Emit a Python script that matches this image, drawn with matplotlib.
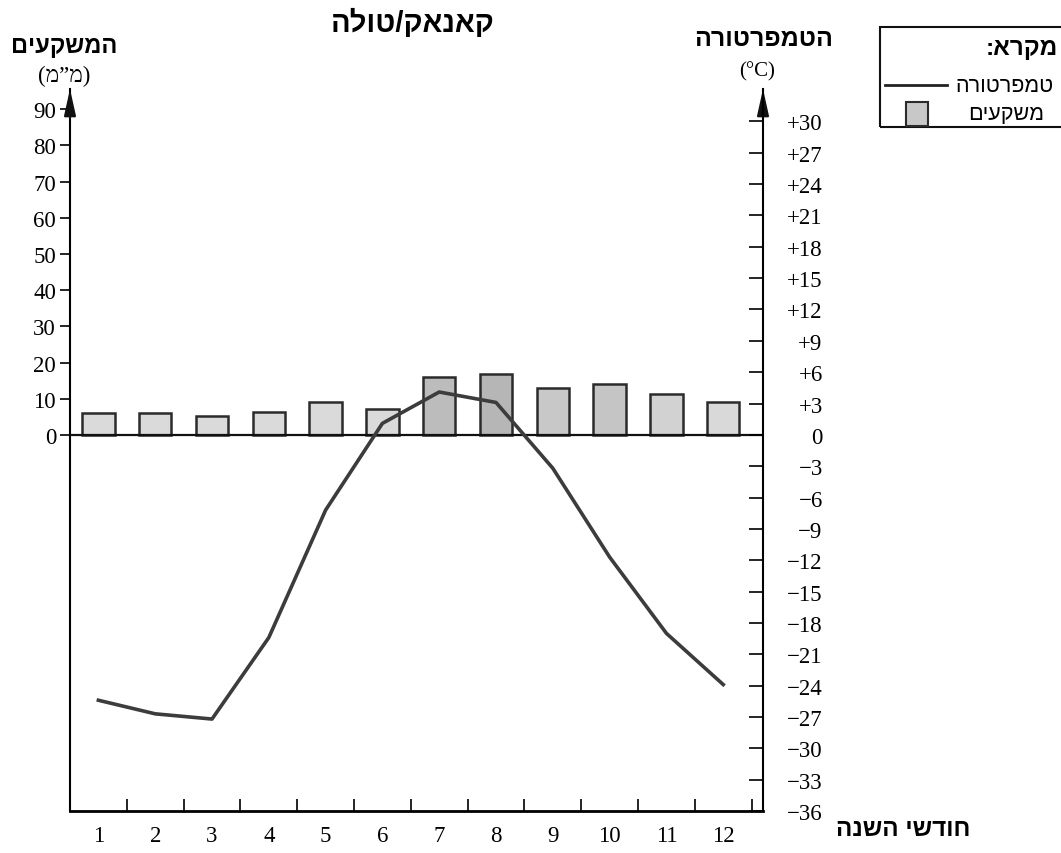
import matplotlib
matplotlib.use('Agg')
import matplotlib.pyplot as plt
from matplotlib.patches import Rectangle
from matplotlib.lines import Line2D

# ---------------- data ----------------
months = list(range(1, 13))
month_labels = [str(m) for m in months]
precip_mm = [6.0, 6.2, 5.2, 6.4, 9.2, 7.1, 15.9, 16.9, 13.1, 14.0, 11.2, 9.1]
temp_c = [-25.4, -26.7, -27.2, -19.4, -7.2, 1.1, 4.1, 3.1, -3.2, -11.7, -19.0, -23.9]
precip_ticks = list(range(0, 91, 10))
temp_ticks = list(range(-36, 31, 3))

title_he = "קאנאק/טולה"
precip_label_he = "המשקעים"
precip_unit_he = "מ”מ"
temp_label_he = "הטמפרטורה"
temp_unit = "(°C)"
xlabel_he = "חודשי השנה"
legend_title_he = "מקרא:"
legend_temp_he = "טמפרטורה"
legend_precip_he = "משקעים"


def vis(s):
    # matplotlib draws left-to-right; reverse Hebrew for visual order
    return s[::-1]


W, H = 1061, 854
fig = plt.figure(figsize=(W / 100, H / 100), dpi=100)
fig.patch.set_facecolor('white')

HEB = ['Liberation Sans', 'DejaVu Sans']
SERIF = ['Liberation Serif', 'DejaVu Serif']


def px(x, y):
    return x / W, 1 - y / H


# axes frame in pixels
xl, xr, yb, yt = 70, 763, 812, 90
ax_p = fig.add_axes([xl / W, 1 - yb / H, (xr - xl) / W, (yb - yt) / H])
ax_t = ax_p.twinx()

ax_p.set_xlim(0.5, 12.7)
ax_p.set_ylim(-103.9, 95.6)
ax_t.set_ylim(-36, 33.1)

# bars
bar_colors = ['#dadada'] * 6 + ['#bcbcbc', '#b6b6b6', '#c8c8c8', '#c5c5c5', '#d2d2d2', '#d9d9d9']
ax_p.bar(months, precip_mm, width=0.57, color=bar_colors, edgecolor='#2b2b2b',
         linewidth=1.8, zorder=2)
ax_p.axhline(0, color='#111111', lw=1.6, zorder=3)

# temperature line
ax_t.plot(months, temp_c, color='#3c3c3c', lw=2.6, zorder=4)

# spines
for s in ['top', 'right']:
    ax_p.spines[s].set_visible(False)
for s in ['top', 'left', 'bottom']:
    ax_t.spines[s].set_visible(False)
ax_p.spines['left'].set_linewidth(1.5)
ax_p.spines['bottom'].set_linewidth(2.0)
ax_t.spines['right'].set_linewidth(1.5)

TICK_FS = 16.5

# left ticks
ax_p.set_yticks(precip_ticks)
ax_p.set_yticklabels([str(v) for v in precip_ticks], fontfamily=SERIF, fontsize=TICK_FS)
ax_p.tick_params(axis='y', direction='out', length=7, width=1.2, pad=3)

# right ticks
def fmt(t):
    if t > 0:
        return '+%d' % t
    if t == 0:
        return '0'
    return '\u2212%d' % (-t)

ax_t.set_yticks(temp_ticks)
ax_t.set_yticklabels([fmt(t) for t in temp_ticks], fontfamily=SERIF, fontsize=TICK_FS)
ax_t.tick_params(axis='y', direction='in', length=10, width=1.2, pad=43)
for lab in ax_t.get_yticklabels():
    lab.set_horizontalalignment('right')

# x ticks
ax_p.set_xticks(months)
ax_p.set_xticklabels(month_labels, fontfamily=SERIF, fontsize=TICK_FS)
ax_p.set_xticks([m + 0.5 for m in months], minor=True)
ax_p.tick_params(axis='x', which='major', length=0, pad=10)
ax_p.tick_params(axis='x', which='minor', direction='in', length=9, width=1.2)

ax_p.set_facecolor('none')
ax_t.set_facecolor('none')

# arrows
for xf in (0.0, 1.0):
    ax_p.annotate('', xy=(xf, 1.0), xytext=(xf, 0.96), xycoords='axes fraction',
                  textcoords='axes fraction',
                  arrowprops=dict(arrowstyle='-|>,head_length=0.9,head_width=0.2',
                                  color='#111111', lw=1.5, mutation_scale=18,
                                  shrinkA=0, shrinkB=0))

# texts
fig.text(*px(413, 23), vis(title_he), ha='center', va='center', fontsize=21,
         fontweight='bold', family=HEB)
fig.text(*px(64, 46), vis(precip_label_he), ha='center', va='center', fontsize=17,
         fontweight='bold', family=HEB)
fig.text(*px(64, 76), '(' + vis(precip_unit_he) + ')', ha='center', va='center',
         fontsize=16.5, family=SERIF)
fig.text(*px(764, 39), vis(temp_label_he), ha='center', va='center', fontsize=18,
         fontweight='bold', family=HEB)
fig.text(*px(757, 72), temp_unit, ha='center', va='center', fontsize=15, family=SERIF)
fig.text(*px(903, 830), vis(xlabel_he), ha='center', va='center', fontsize=17.5,
         fontweight='bold', family=HEB)

# legend box
x0, y0 = px(880, 128)
fig.patches.append(Rectangle((x0, y0), 240 / W, 100 / H, transform=fig.transFigure,
                             fill=False, edgecolor='#111111', lw=1.5, clip_on=False))
fig.text(*px(986, 49), vis(legend_title_he), ha='left', va='center', fontsize=17.5,
         fontweight='bold', family=HEB)
fig.lines.append(Line2D([885 / W, 947 / W], [1 - 86 / H, 1 - 86 / H],
                        transform=fig.transFigure, color='#222222', lw=2))
fig.text(*px(955, 86), vis(legend_temp_he), ha='left', va='center', fontsize=15.5,
         family=HEB)
px0, py0 = px(906, 127)
fig.patches.append(Rectangle((px0, py0), 22 / W, 24 / H, transform=fig.transFigure,
                             facecolor='#c8c8c8', edgecolor='#2b2b2b', lw=1.5))
fig.text(*px(968, 114), vis(legend_precip_he), ha='left', va='center', fontsize=15.5,
         family=HEB)

fig.savefig('out.png', dpi=100)
